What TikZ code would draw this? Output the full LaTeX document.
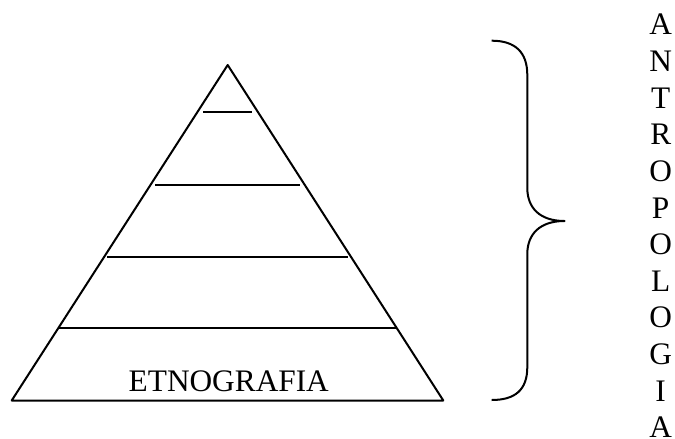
\documentclass[tikz,border=0pt]{standalone}
\usepackage{fontspec}
\setmainfont{Liberation Serif}
\usetikzlibrary{calc}

\begin{document}
\begin{tikzpicture}[line width=1.5pt, line join=round, x=0.75pt, y=-0.75pt,
    lbl/.style={inner sep=0pt, anchor=base, font=\fontsize{23.5pt}{26pt}\selectfont}]
  \useasboundingbox (0,0) rectangle (675,439);
  \coordinate (apex) at (227.7,65);
  \coordinate (bl) at (11.7,400.5);
  \coordinate (br) at (443.3,400.5);
  \draw (bl) -- (apex) -- (br) -- cycle;
  \foreach \y/\xa/\xb in {112.3/203.3/252.3, 184.7/155/300, 257/107.3/348.3, 328.3/58.3/396.7} {
    \draw[line width=1.7pt] (\xa,\y) -- (\xb,\y);
  }
  \node[lbl] (etno) at (228.8,391.7) {ETNOGRAFIA};
  % brace
  \coordinate (btop) at (491.7,40.7);
  \coordinate (btip) at (564.5,221);
  \coordinate (bbot) at (491.7,400);
  \draw (btop) .. controls (515,40.7) and (527.3,52) .. (527.3,75)
    -- (527.3,188) .. controls (527.3,208) and (540,221) .. (btip)
    .. controls (540,221) and (527.3,234) .. (527.3,254)
    -- (527.3,367) .. controls (527.3,390) and (515,400) .. (bbot);
  \foreach \l [count=\i from 0] in {A,N,T,R,O,P,O,L,O,G,I,A} {
    \node[lbl] (l\i) at (660.7,35+36.6*\i) {\l};
  }
\end{tikzpicture}
\end{document}
